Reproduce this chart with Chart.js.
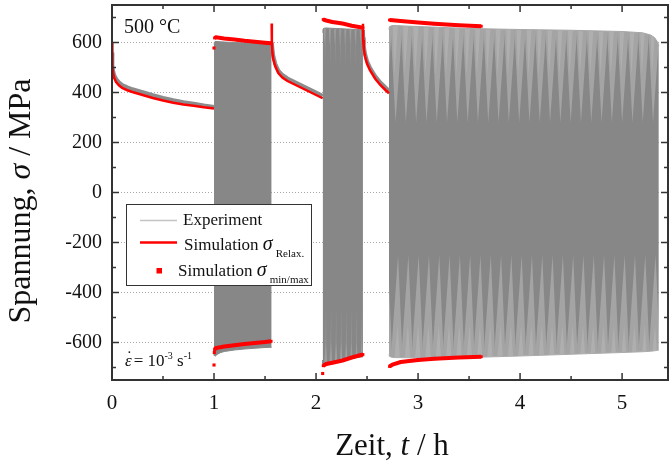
<!DOCTYPE html>
<html>
<head>
<meta charset="utf-8">
<script src="https://cdn.jsdelivr.net/npm/chart.js@4.4.1/dist/chart.umd.min.js"></script>
<style>
  html, body { margin: 0; padding: 0; background: #fff; }
  #wrap { width: 672px; height: 465px; }
</style>
</head>
<body>
<div id="wrap"><canvas id="chart" width="672" height="465"></canvas></div>
<script>
// axis ticks
const xTicks = [0, 1, 2, 3, 4, 5];
const xMinor = [0.5, 1.5, 2.5, 3.5, 4.5];
const yTicks = [-600, -400, -200, 0, 200, 400, 600];
const yMinor = [-700, -500, -300, -100, 100, 300, 500, 700];

// relaxation holds: time in h, stress in MPa
const hold1T   = [0, 0.002, 0.005, 0.01, 0.02, 0.04, 0.07, 0.1, 0.15, 0.2, 0.3, 0.4, 0.5, 0.6, 0.7, 0.8, 0.9, 1.0];
const hold1Exp = [560, 530, 505, 488, 470, 454, 440, 430, 421, 413, 401, 389, 378, 369, 361, 355, 348, 342];
const hold1Sim = [600, 555, 510, 482, 460, 442, 428, 418, 409, 402, 390, 378, 368, 359, 352, 347, 341, 336];

const hold2T   = [1.565, 1.567, 1.572, 1.58, 1.6, 1.63, 1.67, 1.72, 1.8, 1.9, 2.0, 2.065];
const hold2Exp = [600, 595, 575, 548, 515, 488, 470, 456, 440, 420, 400, 386];
const hold2Sim = [676, 600, 560, 535, 505, 478, 460, 446, 430, 410, 390, 377];

const hold3T   = [2.46, 2.462, 2.468, 2.48, 2.5, 2.53, 2.58, 2.63, 2.68, 2.715];
const hold3Exp = [650, 620, 585, 555, 525, 498, 465, 440, 420, 406];
const hold3Sim = [675, 610, 575, 545, 515, 488, 455, 430, 410, 397];

// cycling blocks, experiment envelope (upper / lower peaks)
const block1T   = [1.0, 1.003, 1.01, 1.03, 1.06, 1.1, 1.2, 1.3, 1.4, 1.5, 1.565];
const block1Max = [590, 600, 604, 604, 603, 602, 600, 598, 597, 596, 595];
const block1Min = [-630, -652, -655, -648, -641, -636, -630, -626, -623, -620, -619];

const block2T   = [2.065, 2.068, 2.075, 2.1, 2.15, 2.2, 2.3, 2.4, 2.46];
const block2Max = [640, 652, 657, 658, 657, 656, 654, 652, 650];
const block2Min = [-670, -688, -690, -686, -680, -675, -667, -660, -657];

const block3T   = [2.715, 2.72, 2.75, 3.0, 3.5, 4.0, 4.5, 5.0, 5.2, 5.28, 5.32, 5.35, 5.36];
const block3Max = [652, 664, 668, 664, 656, 652, 649, 644, 639, 630, 619, 600, 585];
const block3Min = [-648, -656, -660, -662, -660, -654, -647, -640, -637, -635, -633, -631, -630];

// simulated cycle peaks
const peak1T   = [1.005, 1.02, 1.1, 1.2, 1.3, 1.4, 1.5, 1.56];
const peak1Max = [618, 621, 616, 612, 607, 603, 599, 597];
const peak1Min = [-628, -622, -616, -611, -606, -602, -598, -595];

const peak2T   = [2.07, 2.1, 2.16, 2.26, 2.35, 2.46];
const peak2Max = [692, 688, 682, 676, 667, 659];
const peak2Min = [-693, -686, -681, -672, -660, -648];

const peak3T   = [2.72, 2.75, 2.83, 3.0, 3.16, 3.4, 3.62];
const peak3Max = [690, 689, 686, 680, 675, 669, 665];
const peak3Min = [-696, -688, -678, -670, -665, -660, -657];

// first-cycle peaks standing apart from the rest
const firstT   = [1.0, 1.0, 1.003, 2.065];
const firstVal = [578, -690, -640, -724];

const serif = "'Liberation Serif', 'Times New Roman', serif";
const RED = '#ff0000';
const GRAY = '#878787';

function pts(ts, vs) {
  return ts.map((t, i) => ({ x: t, y: vs[i] }));
}

function tri(g, color, x1, y1, x2, y2, x3, y3) {
  g.fillStyle = color;
  g.beginPath();
  g.moveTo(x1, y1); g.lineTo(x2, y2); g.lineTo(x3, y3);
  g.closePath();
  g.fill();
}

// sawtooth shading of the dense cycling blocks (aliasing of the raw signal)
function sawTexture(cfg) {
  return context => {
    const chart = context.chart;
    const y = chart.scales.y;
    if (!chart.chartArea || !y) return GRAY;
    const n = cfg.teeth, w = cfg.width / n;
    const tile = document.createElement('canvas');
    tile.width = cfg.width;
    tile.height = chart.height;
    const g = tile.getContext('2d');
    g.fillStyle = GRAY;
    g.fillRect(0, 0, tile.width, tile.height);
    const top = y.getPixelForValue(700), bot = y.getPixelForValue(-700);
    for (let i = 0; i < n; i++) {
      const x0 = i * w;
      const s = cfg.spread;
      tri(g, cfg.light, x0 - s * w, top, x0 + (1 + s) * w, top, x0 + 0.4 * w, y.getPixelForValue(cfg.upTip));
      tri(g, cfg.lighter, x0 + 0.1 * w, top, x0 + 0.7 * w, top, x0 + 0.3 * w, y.getPixelForValue(cfg.upTip2));
      tri(g, cfg.light, x0 - s * w, bot, x0 + (1 + s) * w, bot, x0 + 0.65 * w, y.getPixelForValue(cfg.lowTip));
      tri(g, cfg.lighter, x0 + 0.2 * w, bot, x0 + 0.9 * w, bot, x0 + 0.6 * w, y.getPixelForValue(cfg.lowTip2));
    }
    return chart.ctx.createPattern(tile, 'repeat-x');
  };
}

const longBlockShade = sawTexture({ width: 103, teeth: 10, spread: 0.12,
  light: '#a4a4a4', lighter: '#afafaf', upTip: 280, upTip2: 470, lowTip: -250, lowTip2: -530 });
const shortBlockShade = sawTexture({ width: 41, teeth: 8, spread: -0.35,
  light: '#959595', lighter: '#9e9e9e', upTip: 500, upTip2: 590, lowTip: -450, lowTip2: -600 });

function relaxSim(ts, vs) {
  return { data: pts(ts, vs), borderColor: RED, borderWidth: 2.5, order: 0 };
}
function peakSim(ts, vs) {
  return { data: pts(ts, vs), borderColor: RED, borderWidth: 4, pointStyle: 'rect',
           pointRadius: 2, pointBackgroundColor: RED, pointBorderWidth: 0, order: 0 };
}
function relaxExp(ts, vs) {
  return { data: pts(ts, vs), borderColor: '#8c8c8c', borderWidth: 4, order: 1 };
}
function blockUpper(ts, vs, edge) {
  return { data: pts(ts, vs), borderColor: edge, borderWidth: 1, order: 2 };
}
function blockLower(ts, vs, edge, fillColor) {
  return { data: pts(ts, vs), borderColor: edge, borderWidth: 1, fill: '-1',
           backgroundColor: fillColor, order: 2 };
}

const datasets = [
  relaxSim(hold1T, hold1Sim),
  relaxSim(hold2T, hold2Sim),
  relaxSim(hold3T, hold3Sim),
  peakSim(peak1T, peak1Max), peakSim(peak1T, peak1Min),
  peakSim(peak2T, peak2Max), peakSim(peak2T, peak2Min),
  peakSim(peak3T, peak3Max), peakSim(peak3T, peak3Min),
  { data: pts(firstT, firstVal), showLine: false, pointStyle: 'rect', pointRadius: 2.2,
    pointBackgroundColor: RED, pointBorderWidth: 0, order: 0 },
  relaxExp(hold1T, hold1Exp),
  relaxExp(hold2T, hold2Exp),
  relaxExp(hold3T, hold3Exp),
  blockUpper(block1T, block1Max, GRAY), blockLower(block1T, block1Min, GRAY, GRAY),
  blockUpper(block2T, block2Max, GRAY), blockLower(block2T, block2Min, GRAY, shortBlockShade),
  blockUpper(block3T, block3Max, '#a6a6a6'), blockLower(block3T, block3Min, '#ababab', longBlockShade)
];

function drawRuns(ctx, x, y, runs) {
  for (const r of runs) {
    ctx.font = r.font;
    x += r.pre || 0;
    ctx.fillText(r.text, x, y + (r.dy || 0));
    x += ctx.measureText(r.text).width;
  }
  return x;
}
function runsWidth(ctx, runs) {
  let w = 0;
  for (const r of runs) {
    ctx.font = r.font;
    w += (r.pre || 0) + ctx.measureText(r.text).width;
  }
  return w;
}

// frame with inward ticks on all four sides
const framePlugin = {
  id: 'frame',
  afterDatasetsDraw(chart) {
    const { ctx, chartArea: a, scales: { x, y } } = chart;
    ctx.save();
    ctx.strokeStyle = '#333';
    ctx.lineWidth = 1.5;
    const tick = (vals, len) => {
      ctx.beginPath();
      vals.forEach(v => {
        const px = x.getPixelForValue(v);
        ctx.moveTo(px, a.bottom); ctx.lineTo(px, a.bottom - len);
        ctx.moveTo(px, a.top); ctx.lineTo(px, a.top + len);
      });
      ctx.stroke();
    };
    const tickY = (vals, len) => {
      ctx.beginPath();
      vals.forEach(v => {
        const py = y.getPixelForValue(v);
        ctx.moveTo(a.left, py); ctx.lineTo(a.left + len, py);
        ctx.moveTo(a.right, py); ctx.lineTo(a.right - len, py);
      });
      ctx.stroke();
    };
    tick(xTicks, 7); tick(xMinor, 4);
    tickY(yTicks, 7); tickY(yMinor, 4);
    ctx.lineWidth = 2;
    ctx.strokeRect(a.left, a.top, a.right - a.left, a.bottom - a.top);
    ctx.restore();
  }
};

// legend, labels and axis titles
const textPlugin = {
  id: 'texts',
  afterDraw(chart) {
    const ctx = chart.ctx;
    const f = (size, style) => (style ? style + ' ' : '') + size + 'px ' + serif;
    ctx.save();
    ctx.fillStyle = '#111';
    ctx.textBaseline = 'alphabetic';
    ctx.textAlign = 'left';

    // legend box
    ctx.fillStyle = '#fff';
    ctx.fillRect(126, 204, 185, 81);
    ctx.strokeStyle = '#333';
    ctx.lineWidth = 1;
    ctx.strokeRect(126.5, 204.5, 185, 81);

    ctx.lineWidth = 1.5;
    ctx.strokeStyle = '#c4c4c4';
    ctx.beginPath(); ctx.moveTo(140, 220.5); ctx.lineTo(177, 220.5); ctx.stroke();
    ctx.lineWidth = 2.5;
    ctx.strokeStyle = RED;
    ctx.beginPath(); ctx.moveTo(140, 242.5); ctx.lineTo(177, 242.5); ctx.stroke();
    ctx.fillStyle = RED;
    ctx.fillRect(156.5, 268, 5.5, 5.5);

    ctx.fillStyle = '#111';
    drawRuns(ctx, 183, 225, [{ text: 'Experiment', font: f(17) }]);
    drawRuns(ctx, 184, 249.5, [
      { text: 'Simulation ', font: f(17) },
      { text: 'σ', font: f(20, 'italic') },
      { text: 'Relax.', font: f(11), dy: 7, pre: 3 }
    ]);
    drawRuns(ctx, 178, 276, [
      { text: 'Simulation ', font: f(17) },
      { text: 'σ', font: f(20, 'italic') },
      { text: 'min/max', font: f(11), dy: 6.5, pre: 3 }
    ]);

    // temperature and strain rate
    drawRuns(ctx, 124, 33, [{ text: '500 °C', font: f(20) }]);
    const ex = 125, ey = 366;
    ctx.font = f(17, 'italic');
    const epsW = ctx.measureText('ε').width;
    drawRuns(ctx, ex, ey, [
      { text: 'ε', font: f(17, 'italic') },
      { text: '= 10', font: f(17), pre: 2 },
      { text: '-3', font: f(10), dy: -7 },
      { text: ' s', font: f(17) },
      { text: '-1', font: f(10), dy: -7 }
    ]);
    ctx.font = f(17);
    ctx.textAlign = 'center';
    ctx.fillText('˙', ex + epsW / 2 + 1, ey - 4);
    ctx.textAlign = 'left';

    // axis titles
    const xt = [
      { text: 'Zeit, ', font: f(31) },
      { text: 't', font: f(31, 'italic') },
      { text: ' / h', font: f(31) }
    ];
    drawRuns(ctx, 392 - runsWidth(ctx, xt) / 2, 455, xt);

    const yt = [
      { text: 'Spannung, ', font: f(32) },
      { text: 'σ', font: f(32, 'italic') },
      { text: ' / MPa', font: f(32) }
    ];
    ctx.translate(30, 201);
    ctx.rotate(-Math.PI / 2);
    drawRuns(ctx, -runsWidth(ctx, yt) / 2, 0, yt);
    ctx.restore();
  }
};

new Chart(document.getElementById('chart'), {
  type: 'line',
  data: { datasets },
  options: {
    responsive: false,
    animation: false,
    devicePixelRatio: 1,
    layout: { padding: { top: 5, right: 1, left: 0, bottom: 0 } },
    plugins: { legend: { display: false }, tooltip: { enabled: false } },
    elements: { point: { radius: 0 }, line: { tension: 0 } },
    scales: {
      x: {
        type: 'linear', min: 0, max: 5.45,
        afterBuildTicks: s => { s.ticks = xTicks.map(v => ({ value: v })); },
        afterFit: s => { s.height = 85; s.paddingLeft = 0; s.paddingRight = 0; },
        grid: { display: false },
        border: { display: false },
        ticks: { font: { family: serif, size: 21 }, color: '#111', padding: 3, maxRotation: 0, autoSkip: false }
      },
      y: {
        min: -750, max: 750,
        afterBuildTicks: s => { s.ticks = yTicks.map(v => ({ value: v })); },
        afterFit: s => { s.width = 112; s.paddingTop = 0; s.paddingBottom = 0; },
        grid: { color: '#a8a8a8', lineWidth: 1, drawTicks: false },
        border: { display: false, dash: [1, 2] },
        ticks: { font: { family: serif, size: 20 }, color: '#111', padding: 10, autoSkip: false }
      }
    }
  },
  plugins: [framePlugin, textPlugin]
});
</script>
</body>
</html>
